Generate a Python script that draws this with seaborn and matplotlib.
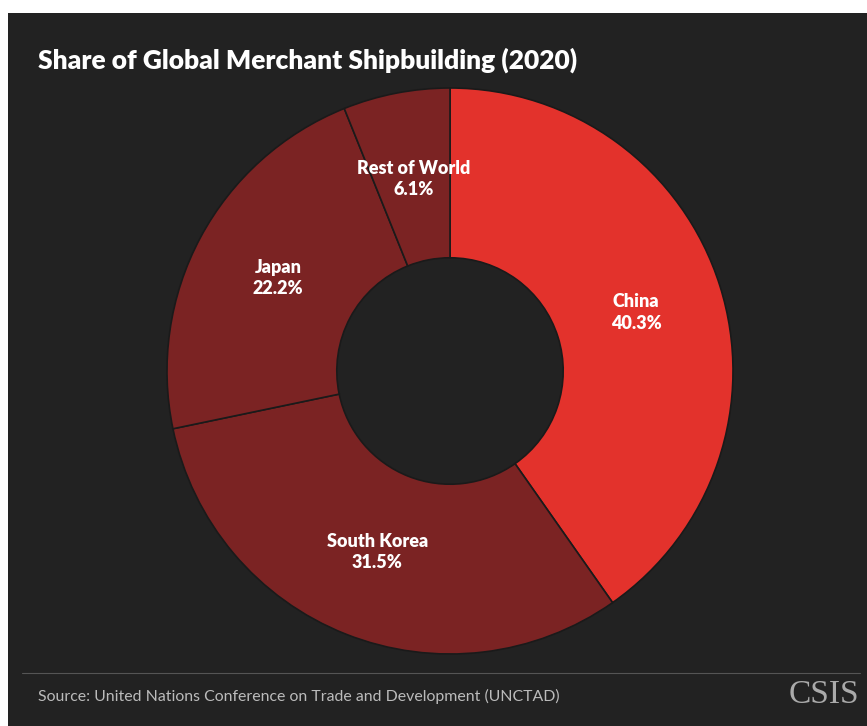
import matplotlib
matplotlib.use("Agg")
import matplotlib.pyplot as plt
import seaborn as sns
import numpy as np
from matplotlib.patches import Rectangle
from matplotlib.lines import Line2D

categories = ["China", "South Korea", "Japan", "Rest of World"]
shares = [40.3, 31.5, 22.2, 6.1]
labels = ["40.3%", "31.5%", "22.2%", "6.1%"]

sns.set_theme(style="white")
plt.rcParams['font.family'] = ['Lato', 'DejaVu Sans']

W, H = 867, 726
fig = plt.figure(figsize=(W / 100, H / 100), dpi=100)
fig.patch.set_facecolor("white")
BG = "#222222"
fig.add_artist(Rectangle((8 / W, 0), 1 - 8 / W, (H - 13) / H, transform=fig.transFigure,
                         facecolor=BG, edgecolor="none", zorder=0))

cx, cy, R = 450, 371, 283
ax = fig.add_axes([(cx - R) / W, (H - cy - R) / H, 2 * R / W, 2 * R / H])
ax.set_facecolor("none")
colors = ["#e3322c"] + ["#7b2323"] * 3
wedges, _ = ax.pie(shares, colors=colors, startangle=90, counterclock=False,
                   wedgeprops=dict(width=0.6, edgecolor="#1a1a1a", linewidth=1.2))
ax.set_xlim(-1, 1)
ax.set_ylim(-1, 1)
ax.axis("off")

cum = 0
for cat, s, lab in zip(categories, shares, labels):
    mid = 90 - (cum + s / 2) / 100 * 360
    cum += s
    r = 0.69
    x, y = r * np.cos(np.radians(mid)), r * np.sin(np.radians(mid))
    ax.text(x, y, f"{cat}\n{lab}", ha="center", va="center", color="white",
            fontsize=13, fontweight="heavy", linespacing=1.3)

fig.text(38 / W, 1 - 60 / H, "Share of Global Merchant Shipbuilding (2020)", color="white",
         fontsize=19, fontweight="heavy", ha="left", va="center")
fig.add_artist(Line2D([22 / W, 860 / W], [1 - 673 / H, 1 - 673 / H], transform=fig.transFigure,
                      color="#555555", linewidth=0.8))
fig.text(38 / W, 1 - 696 / H, "Source: United Nations Conference on Trade and Development (UNCTAD)",
         color="#bbbbbb", fontsize=11.4, ha="left", va="center")
fig.text(859 / W, 1 - 695 / H, "CSIS", color="#aaaaaa", fontsize=24,
         family=["Liberation Serif", "DejaVu Serif"], ha="right", va="center")

fig.savefig("out.png", dpi=100, facecolor=fig.get_facecolor())
